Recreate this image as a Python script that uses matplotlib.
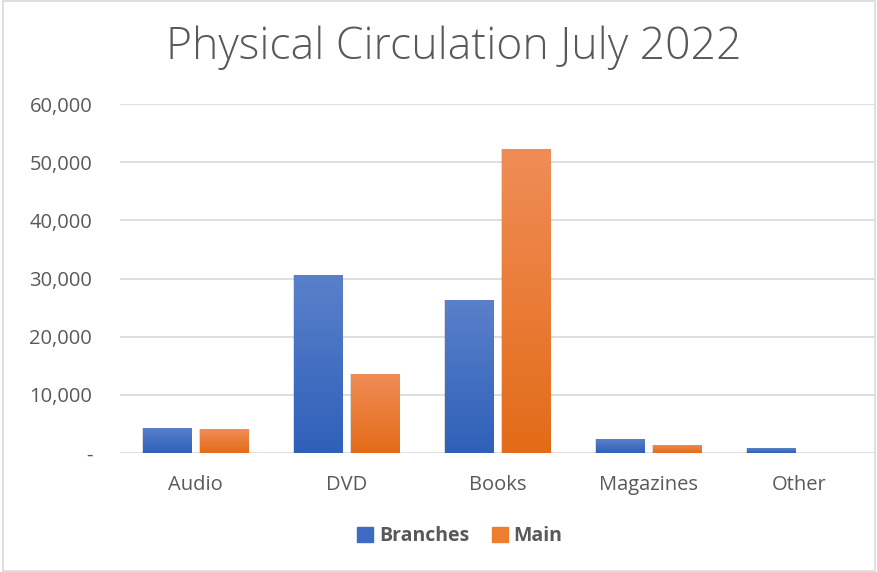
import numpy as np
import matplotlib.pyplot as plt
from matplotlib.patches import Rectangle
from matplotlib.ticker import FuncFormatter, MultipleLocator
import matplotlib.colors as mcolors

categories = ["Audio", "DVD", "Books", "Magazines", "Other"]
branches = [4300, 30600, 26300, 2400, 850]
main = [4100, 13600, 52200, 1400, 0]

plt.rcParams['font.family'] = ['Open Sans', 'DejaVu Sans']
txt = "#595959"

fig = plt.figure(figsize=(8.78, 5.72), dpi=100)
ax = fig.add_axes([120 / 878, 1 - 453 / 572, 755 / 878, 349 / 572])

x = np.arange(len(categories))
w = 0.318
gap = 0.06

def grad_bars(xs, vals, top, bottom):
    bars = ax.bar(xs, vals, w, color=bottom, zorder=3)
    cmap = mcolors.LinearSegmentedColormap.from_list("g", [bottom, top])
    grad = np.linspace(0, 1, 256).reshape(-1, 1)
    for b in bars:
        x0, y0 = b.get_x(), b.get_y()
        bw, bh = b.get_width(), b.get_height()
        if bh <= 0:
            continue
        # soft shadow
        for k, a in [(0.03, 0.06), (0.015, 0.08)]:
            ax.add_patch(Rectangle((x0 - k * 0.3, y0 - 300), bw + k * 0.6, bh + 300,
                                   color="black", alpha=a, lw=0, zorder=2))
        im = ax.imshow(grad, extent=[x0, x0 + bw, y0, y0 + bh], origin="lower",
                       aspect="auto", cmap=cmap, zorder=4)
        im.set_clip_path(b)
    return bars

grad_bars(x - (w + gap) / 2, branches, "#5A80CA", "#2F60B9")
grad_bars(x + (w + gap) / 2, main, "#F08D57", "#E36B18")

ax.set_xlim(-0.5, len(categories) - 0.5)
ax.set_ylim(0, 60000)
ax.yaxis.set_major_locator(MultipleLocator(10000))
ax.yaxis.set_major_formatter(FuncFormatter(lambda v, p: "-" if v == 0 else f"{int(v):,}"))
ax.set_xticks(x)
ax.set_xticklabels(categories)
ax.grid(axis="y", color="#D9D9D9", lw=1.2, zorder=0)
ax.set_axisbelow(True)
for s in ax.spines.values():
    s.set_visible(False)
ax.tick_params(axis="both", length=0, colors=txt, labelsize=14.5)
ax.tick_params(axis="y", pad=20)
ax.tick_params(axis="x", pad=16)

fig.text(454 / 878, 1 - 48 / 572, "Physical Circulation July 2022", ha="center", va="center",
         fontsize=32, color=txt, fontweight="light")

handles = [Rectangle((0, 0), 1, 1, color="#3F6CC2"), Rectangle((0, 0), 1, 1, color="#ED7D31")]
leg = fig.legend(handles, ["Branches", "Main"], loc="center", bbox_to_anchor=(460 / 878, 1 - 536 / 572),
                 ncol=2, frameon=False, handlelength=0.8, handleheight=0.8, handletextpad=0.3,
                 columnspacing=1.2, prop={"weight": "bold", "size": 14})
for t in leg.get_texts():
    t.set_color(txt)

fig.patches.append(Rectangle((0.003, 0.002), 0.994, 0.996, transform=fig.transFigure,
                             fill=False, edgecolor="#D9D9D9", lw=1.2))

fig.savefig("out.png", dpi=100)
